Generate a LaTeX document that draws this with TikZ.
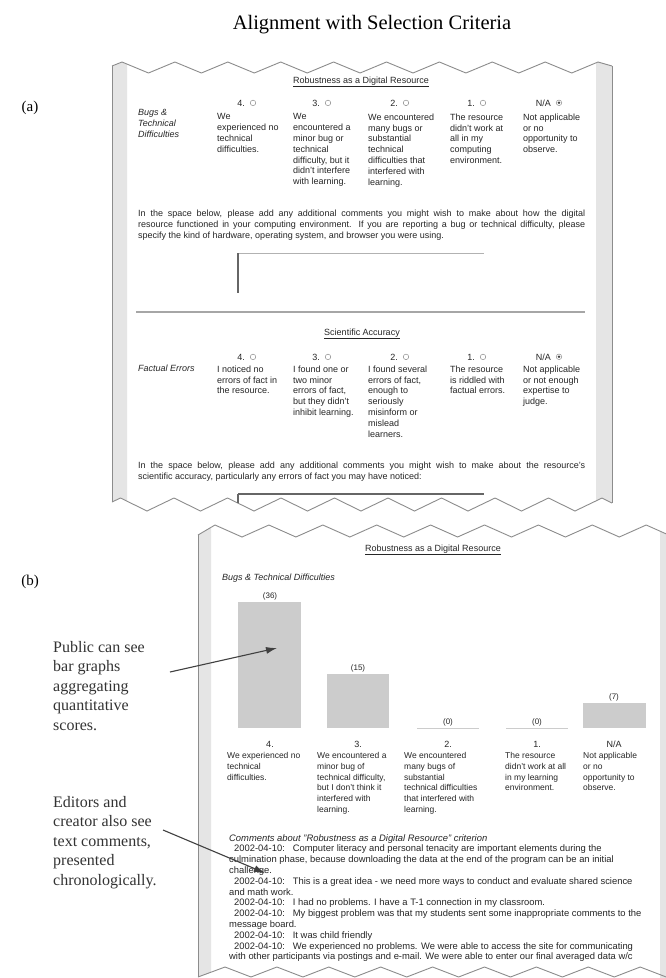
\documentclass[tikz,border=0pt]{standalone}
\usepackage{fontspec}
\setmainfont{Liberation Serif}
\setsansfont{Liberation Sans}
\usetikzlibrary{positioning,arrows.meta}
\definecolor{edgegray}{gray}{0.55}
\definecolor{stripgray}{gray}{0.9}
\definecolor{bargray}{gray}{0.8}
\definecolor{inkgray}{gray}{0.25}
\tikzstyle{form}=[inner sep=0pt, anchor=north west, align=left, text=black!85, font=\sffamily\fontsize{9}{10.8}\selectfont]
\tikzstyle{crit}=[form, font=\sffamily\itshape\fontsize{9}{10.8}\selectfont]
\tikzstyle{para}=[form, text width=447pt, align=justify, font=\sffamily\fontsize{9}{11}\selectfont]
\tikzstyle{hd}=[inner sep=0pt, text=black!85, font=\sffamily\fontsize{9}{10.8}\selectfont]
\tikzstyle{num}=[inner sep=0pt, anchor=base east, text=black!85, font=\sffamily\fontsize{9}{10.8}\selectfont]
\tikzstyle{radio}=[circle, draw=black!45, line width=0.5pt, inner sep=0pt, minimum size=5.5pt]
\tikzstyle{radioon}=[radio, path picture={\fill[black!75] (path picture bounding box.center) circle (1.3pt);}]
\tikzstyle{cellb}=[form, font=\sffamily\fontsize{8.5}{10.7}\selectfont]
\tikzstyle{vallbl}=[inner sep=0pt, text=black!85, font=\sffamily\fontsize{8}{9}\selectfont]
\tikzstyle{note}=[inner sep=0pt, anchor=north west, align=left, text=black!80, font=\fontsize{16}{19.5}\selectfont]
\tikzstyle{edge}=[draw=edgegray, line width=0.9pt, line join=miter]
\tikzstyle{ptr}=[-{Latex[length=11pt,width=7pt]}, draw=inkgray, line width=1.1pt]

\begin{document}
\begin{tikzpicture}[x=1pt, y=-1pt]
\useasboundingbox[fill=white] (0,0) rectangle (665,978);
\node[inner sep=0pt, font=\fontsize{20.5}{24}\selectfont] (title) at (372,25) {Alignment with Selection Criteria};
\node[inner sep=0pt, font=\fontsize{15}{18}\selectfont] (la) at (30,108) {(a)};
\node[inner sep=0pt, font=\fontsize{15}{18}\selectfont] (lb) at (30,582) {(b)};

\fill[stripgray] (112,66) -- (122,62) -- (127,64.5) -- (127,501) -- (120.5,498) -- (112,502) -- cycle;
\fill[stripgray] (596,62.8) -- (598,62) -- (612,66) -- (612,503) -- (602,498) -- (596,501) -- cycle;
\draw[edge] (112,66) \foreach \k in {0,...,8} { -- ({122+52.9*\k},62) -- ({148.5+52.9*\k},73) } -- (598,62) -- (612,66);
\draw[edge] (112,502) \foreach \k in {0,...,8} { -- ({120.5+53.5*\k},498) -- ({147+53.5*\k},511) } -- (602,498) -- (612,503);
\draw[edge] (112,66) -- (112,502);
\draw[edge] (612,66) -- (612,503);

\node[hd] (robA) at (361,82) {\underline{Robustness as a Digital Resource}};
\node[crit] (bugsA) at (138,109.5) {Bugs \&\\Technical\\Difficulties};
\node[num] (n4a) at (245,106) {4.};
\node[radio, right=5pt of n4a] (r4a) {};
\node[num] (n3a) at (320,106) {3.};
\node[radio, right=5pt of n3a] (r3a) {};
\node[num] (n2a) at (398,106) {2.};
\node[radio, right=5pt of n2a] (r2a) {};
\node[num] (n1a) at (475,106) {1.};
\node[radio, right=5pt of n1a] (r1a) {};
\node[num] (nna) at (551,106) {N/A};
\node[radioon, right=5pt of nna] (rna) {};
\node[form] (c4a) at (217,113.5) {We\\experienced no\\technical\\difficulties.};
\node[form] (c3a) at (293,113.5) {We\\encountered a\\minor bug or\\technical\\difficulty, but it\\didn't interfere\\with learning.};
\node[form] (c2a) at (368,113.5) {We encountered\\many bugs or\\substantial\\technical\\difficulties that\\interfered with\\learning.};
\node[form] (c1a) at (450,113.5) {The resource\\didn't work at\\all in my\\computing\\environment.};
\node[form] (cna) at (523,113.5) {Not applicable\\or no\\opportunity to\\observe.};
\node[para] (txtA) at (138,209.5) {In the space below, please add any additional comments you might wish to make about how the digital\linebreak resource functioned in your computing environment. If you are reporting a bug or technical difficulty, please\linebreak specify the kind of hardware, operating system, and browser you were using.};
\draw[black!30, line width=0.8pt] (238,253) -- (484,253);
\draw[black!60, line width=1.2pt] (238,253) -- (238,293);
\draw[black!35, line width=2pt] (136,312) -- (585,312);

\node[hd] (sciA) at (362,334) {\underline{Scientific Accuracy}};
\node[crit, anchor=base west] (factA) at (138,371) {Factual Errors};
\node[num] (n4b) at (245,360) {4.};
\node[radio, right=5pt of n4b] (r4b) {};
\node[num] (n3b) at (320,360) {3.};
\node[radio, right=5pt of n3b] (r3b) {};
\node[num] (n2b) at (398,360) {2.};
\node[radio, right=5pt of n2b] (r2b) {};
\node[num] (n1b) at (475,360) {1.};
\node[radio, right=5pt of n1b] (r1b) {};
\node[num] (nnb) at (551,360) {N/A};
\node[radioon, right=5pt of nnb] (rnb) {};
\node[form] (c4b) at (217,365.5) {I noticed no\\errors of fact in\\the resource.};
\node[form] (c3b) at (293,365.5) {I found one or\\two minor\\errors of fact,\\but they didn't\\inhibit learning.};
\node[form] (c2b) at (368,365.5) {I found several\\errors of fact,\\enough to\\seriously\\misinform or\\mislead\\learners.};
\node[form] (c1b) at (450,365.5) {The resource\\is riddled with\\factual errors.};
\node[form] (cnb) at (523,365.5) {Not applicable\\or not enough\\expertise to\\judge.};
\node[para] (txtB) at (138,461.5) {In the space below, please add any additional comments you might wish to make about the resource's\linebreak scientific accuracy, particularly any errors of fact you may have noticed:};
\draw[black!60, line width=1.2pt] (238,494) -- (484,494);
\draw[black!60, line width=1.2pt] (238,494) -- (238,503);

\fill[stripgray] (198,535) -- (211,527.4) -- (211,972.4) -- (198,977) -- cycle;
\fill[stripgray] (660,531.1) -- (673.1,537) -- (680,537) -- (680,980) -- (660,980) -- cycle;
\draw[edge] (198,535) \foreach \k in {0,...,8} { -- ({215+53.9*\k},525) -- ({242+53.9*\k},537) };
\draw[edge] (198,977) \foreach \k in {0,...,8} { -- ({225+51.9*\k},967) -- ({251+51.9*\k},977) };
\draw[edge] (198,535) -- (198,977);

\node[hd] (robB) at (433,550) {\underline{Robustness as a Digital Resource}};
\node[crit, anchor=west] (bugsB) at (222,578) {Bugs \& Technical Difficulties};
\fill[bargray] (238,602) rectangle (301,728);
\fill[bargray] (327,674) rectangle (389,728);
\draw[bargray, line width=1pt] (417,728) -- (479,728);
\draw[bargray, line width=1pt] (506,728) -- (568,728);
\fill[bargray] (583,703) rectangle (646,728);
\node[vallbl] (v4) at (270,596.5) {(36)};
\node[vallbl] (v3) at (358,668.5) {(15)};
\node[vallbl] (v2) at (448,722.5) {(0)};
\node[vallbl] (v1) at (537,722.5) {(0)};
\node[vallbl] (vn) at (614,697.5) {(7)};
\node[hd] (m4) at (270,744) {4.};
\node[hd] (m3) at (358,744) {3.};
\node[hd] (m2) at (448,744) {2.};
\node[hd] (m1) at (537,744) {1.};
\node[hd] (mn) at (614,744) {N/A};
\node[cellb] (d4) at (227,752.5) {We experienced no\\technical\\difficulties.};
\node[cellb] (d3) at (317,752.5) {We encountered a\\minor bug of\\technical difficulty,\\but I don't think it\\interfered with\\learning.};
\node[cellb] (d2) at (404,752.5) {We encountered\\many bugs of\\substantial\\technical difficulties\\that interfered with\\learning.};
\node[cellb] (d1) at (505,752.5) {The resource\\didn't work at all\\in my learning\\environment.};
\node[cellb] (dn) at (583,752.5) {Not applicable\\or no\\opportunity to\\observe.};
\node[cellb, font=\sffamily\fontsize{9.4}{10.8}\selectfont] (cmts) at (229,834) {\textit{Comments about "Robustness as a Digital Resource" criterion}\\
\hspace*{5pt}2002-04-10:\hspace{8pt}Computer literacy and personal tenacity are important elements during the\\
culmination phase, because downloading the data at the end of the program can be an initial\\
challenge.\\
\hspace*{5pt}2002-04-10:\hspace{8pt}This is a great idea - we need more ways to conduct and evaluate shared science\\
and math work.\\
\hspace*{5pt}2002-04-10:\hspace{8pt}I had no problems. I have a T-1 connection in my classroom.\\
\hspace*{5pt}2002-04-10:\hspace{8pt}My biggest problem was that my students sent some inappropriate comments to the\\
message board.\\
\hspace*{5pt}2002-04-10:\hspace{8pt}It was child friendly\\
\hspace*{5pt}2002-04-10:\hspace{8pt}We experienced no problems. We were able to access the site for communicating\\
with other participants via postings and e-mail. We were able to enter our final averaged data w/c};

\node[note] (pub) at (53,641) {Public can see\\bar graphs\\aggregating\\quantitative\\scores.};
\node[note] (edit) at (53,796) {Editors and\\creator also see\\text comments,\\presented\\chronologically.};
\coordinate (pubtail) at (170,672);
\coordinate (pubtip) at (277,648);
\coordinate (edittail) at (163,830);
\coordinate (edittip) at (265,873);
\draw[ptr] (pubtail) -- (pubtip);
\draw[ptr] (edittail) -- (edittip);
\end{tikzpicture}
\end{document}
